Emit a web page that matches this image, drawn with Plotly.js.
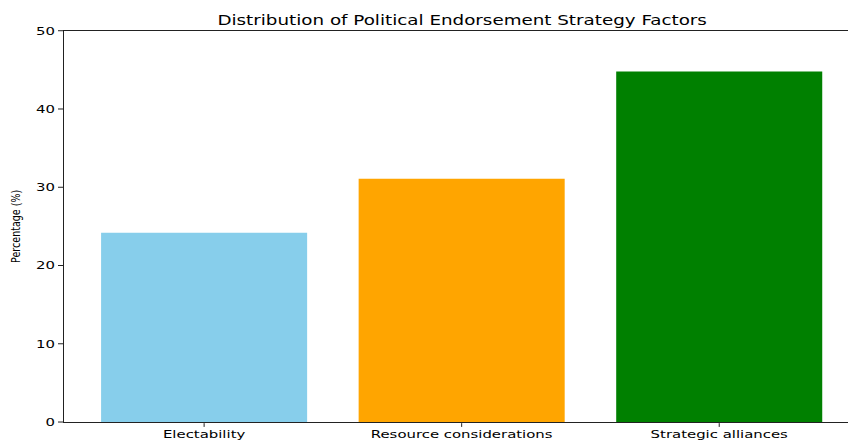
<!DOCTYPE html>
<html>
<head>
<meta charset="utf-8">
<script src="https://cdn.plot.ly/plotly-3.0.1.min.js"></script>
<style>
html,body{margin:0;padding:0;background:#fff;overflow:hidden;}
#wrap{width:848px;height:440px;overflow:hidden;}
#chart{width:848px;height:587px;transform:scaleY(0.7496);transform-origin:0 0;}
</style>
</head>
<body>
<div id="wrap"><div id="chart"></div></div>
<script>
const categories = ["Electability", "Resource considerations", "Strategic alliances"];
const percentages = [24.2, 31.1, 44.8];
const barColors = ["skyblue", "orange", "green"];
const yTicks = [0, 10, 20, 30, 40, 50];

const trace = {
  type: "bar",
  x: [0, 1, 2],
  y: percentages,
  width: 0.8,
  marker: {color: barColors},
  hoverinfo: "x+y"
};

const layout = {
  width: 848,
  height: 587,
  margin: {l: 64, r: 0, t: 41, b: 24},
  paper_bgcolor: "#fff",
  plot_bgcolor: "#fff",
  showlegend: false,
  title: {
    text: "Distribution of Political Endorsement Strategy Factors",
    x: 0.545, xanchor: "center",
    y: 0.955, yanchor: "middle",
    font: {family: "DejaVu Sans", size: 18.3, color: "#000"}
  },
  xaxis: {
    range: [-0.544, 2.5],
    tickmode: "array",
    tickvals: [0, 1, 2],
    ticktext: categories,
    ticks: "outside", ticklen: 5, tickcolor: "#000", tickwidth: 1,
    ticklabelstandoff: -3,
    showgrid: false, zeroline: false,
    showline: true, linecolor: "#222", linewidth: 1.5, mirror: true,
    tickfont: {family: "DejaVu Sans", size: 14.9, color: "#000"}
  },
  yaxis: {
    range: [0, 50],
    tickmode: "array",
    tickvals: yTicks,
    ticks: "outside", ticklen: 5, tickcolor: "#000", tickwidth: 1,
    showgrid: false, zeroline: false,
    showline: true, linecolor: "#000", linewidth: 1,
    tickfont: {family: "DejaVu Sans", size: 14.9, color: "#000"},
    title: {
      text: "Percentage (%)",
      standoff: 12,
      font: {family: "DejaVu Sans", size: 12.7, color: "#000"}
    }
  },
  bargap: 0.2
};

Plotly.newPlot("chart", [trace], layout, {displayModeBar: false, staticPlot: true});
</script>
</body>
</html>
